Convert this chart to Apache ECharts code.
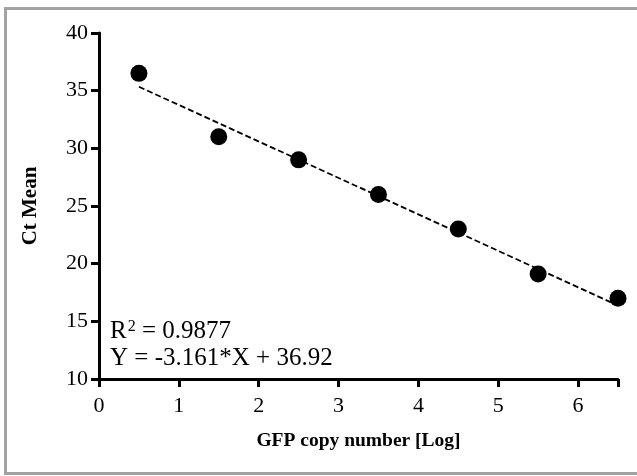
<!DOCTYPE html>
<html><head><meta charset="utf-8">
<script src="https://cdn.jsdelivr.net/npm/echarts@6/dist/echarts.min.js"></script>
<style>html,body{margin:0;padding:0;background:#fff}#c{width:637px;height:476px}</style>
</head><body><div id="c"></div>
<script>
const xValues = [0.5, 1.5, 2.5, 3.5, 4.5, 5.5, 6.5];
const ctMean = [36.5, 31.0, 29.0, 26.0, 23.0, 19.1, 17.0];
const fitX = [0.5, 6.5];
const fitY = [35.34, 16.37];
const xTicks = [0, 1, 2, 3, 4, 5, 6];
const yTicks = [10, 15, 20, 25, 30, 35, 40];
const r2Text = '0.9877';
const eqText = 'Y = -3.161*X + 36.92';

const font = 'Liberation Serif';
const chart = echarts.init(document.getElementById('c'), null, {renderer: 'canvas'});
chart.setOption({
  animation: false,
  backgroundColor: '#fff',
  grid: {left: 99, top: 33, right: 19, bottom: 97, containLabel: false},
  xAxis: {
    type: 'value', min: 0, max: 6.5, interval: 1,
    axisLine: {show: true, onZero: false, lineStyle: {color: '#000', width: 3}},
    axisTick: {show: true, length: 8, lineStyle: {color: '#000', width: 3}},
    axisLabel: {fontFamily: font, fontSize: 22, color: '#000', margin: 16,
      formatter: v => xTicks.includes(v) ? String(v) : ''},
    splitLine: {show: false},
    name: 'GFP copy number [Log]', nameLocation: 'middle', nameGap: 52,
    nameTextStyle: {fontFamily: font, fontSize: 19.5, fontWeight: 'bold', color: '#000'}
  },
  yAxis: {
    type: 'value', min: 10, max: 40, interval: 5,
    axisLine: {show: true, onZero: false, lineStyle: {color: '#000', width: 3}},
    axisTick: {show: true, length: 8, lineStyle: {color: '#000', width: 3}},
    axisLabel: {fontFamily: font, fontSize: 22, color: '#000', margin: 11,
      formatter: v => yTicks.includes(v) ? String(v) : ''},
    splitLine: {show: false},
    name: 'Ct Mean', nameLocation: 'middle', nameGap: 58,
    nameTextStyle: {fontFamily: font, fontSize: 21, fontWeight: 'bold', color: '#000'}
  },
  series: [
    {
      type: 'line', data: fitX.map((x, i) => [x, fitY[i]]),
      symbol: 'none', lineStyle: {color: '#000', width: 1.8, type: [6, 3]}, z: 2
    },
    {
      type: 'scatter', data: xValues.map((x, i) => [x, ctMean[i]]),
      symbol: 'circle', symbolSize: 17, itemStyle: {color: '#000', opacity: 1}, z: 3
    }
  ],
  graphic: [
    {type: 'rect', shape: {x: 5.5, y: 8.5, width: 640, height: 465},
      style: {fill: null, stroke: '#a3a3a3', lineWidth: 3}, silent: true},
    {type: 'text', left: 110, top: 319, style: {
      text: '{a|R}{s|2}{a| = ' + r2Text + '}',
      rich: {a: {fontFamily: font, fontSize: 25, fill: '#000', lineHeight: 25},
             s: {fontFamily: font, fontSize: 16, fill: '#000', verticalAlign: 'top', lineHeight: 16, padding: [0, 0, 0, 1]}}
    }},
    {type: 'text', left: 110, top: 346, style: {
      text: eqText, fontFamily: font, fontSize: 25, fill: '#000'
    }}
  ]
});
</script></body></html>
